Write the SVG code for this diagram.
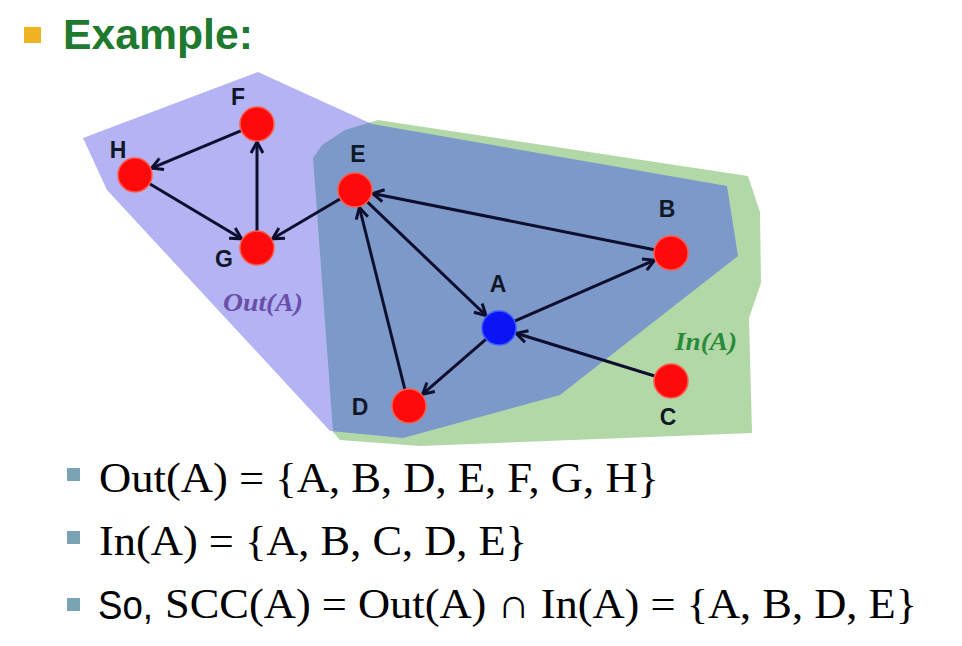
<svg xmlns="http://www.w3.org/2000/svg" width="962" height="646" viewBox="0 0 962 646">
<style>
.node{stroke-width:1.5}
.red{fill:#ff0a0a;stroke:#ff5a4a}
.blue{fill:#0a14f5;stroke:#3a5aff}
.lbl{font-family:"Liberation Sans",Arial,sans-serif;font-weight:bold;font-size:23px;fill:#101828;text-anchor:middle}
.edge{stroke:#0e0e2e;stroke-width:3;fill:none;marker-end:url(#ah)}
.body{font-family:"Liberation Serif","Times New Roman",serif;font-size:42px;fill:#000}
.bul{fill:#7aa3b4}
</style>
<defs>
<marker id="ah" markerWidth="18" markerHeight="18" refX="13" refY="8" orient="auto" markerUnits="userSpaceOnUse">
<path d="M2,2 L13,8 L2,14" fill="none" stroke="#0e0e2e" stroke-width="3" stroke-linejoin="miter"/>
</marker>
<clipPath id="gclip">
<polygon points="313,158 322,145 345,130 378,120 748,176 760,212 761,283 749,318 752,433 420,446 340,440 333,432"/>
</clipPath>
</defs>
<rect width="962" height="646" fill="#ffffff"/>

<!-- title -->
<rect x="24" y="27" width="17" height="16" fill="#efb322"/>
<text x="63" y="49" font-family="'Liberation Sans',Arial,sans-serif" font-weight="bold" font-size="43" fill="#1e7a2e" textLength="190" lengthAdjust="spacingAndGlyphs">Example:</text>

<!-- regions -->
<g id="regions">
<polygon id="out-region" points="83,138 258,72 372,124 727,186 738,256 560,395 403,438 330,431 107,190" fill="#b4b3f4"/>
<polygon id="in-region" points="313,158 322,145 345,130 378,120 748,176 760,212 761,283 749,318 752,433 420,446 340,440 333,432" fill="#b2d8a8"/>
<polygon id="overlap" clip-path="url(#gclip)" points="83,138 258,72 372,124 727,186 738,256 560,395 403,438 330,431 107,190" fill="#7d99ca"/>
<text x="263" y="311" font-family="'Liberation Serif','Times New Roman',serif" font-style="italic" font-weight="bold" font-size="25" fill="#6a4fa8" text-anchor="middle" textLength="80" lengthAdjust="spacingAndGlyphs">Out(A)</text>
<text x="706" y="350" font-family="'Liberation Serif','Times New Roman',serif" font-style="italic" font-weight="bold" font-size="25" fill="#2a8a3a" text-anchor="middle" textLength="62" lengthAdjust="spacingAndGlyphs">In(A)</text>
</g>

<!-- connectors -->
<g id="edges">
<line class="edge" x1="241.3" y1="130.6" x2="151.6" y2="168.1"/>
<line class="edge" x1="149.6" y1="183.7" x2="241.6" y2="238.8"/>
<line class="edge" x1="257" y1="231" x2="257" y2="142"/>
<line class="edge" x1="340.4" y1="198.7" x2="272.5" y2="238.8"/>
<line class="edge" x1="654.3" y1="249.7" x2="372.7" y2="193.5"/>
<line class="edge" x1="367.3" y1="201.8" x2="486" y2="315.5"/>
<line class="edge" x1="514.6" y1="321.2" x2="654.5" y2="260.2"/>
<line class="edge" x1="486.1" y1="339.1" x2="422.6" y2="394.2"/>
<line class="edge" x1="404.9" y1="389.5" x2="359.4" y2="207.5"/>
<line class="edge" x1="654.7" y1="376" x2="516.2" y2="333.3"/>
</g>

<!-- nodes -->
<g id="node-F"><circle class="node red" cx="257" cy="124" r="17"/><text class="lbl" x="238" y="105">F</text></g>
<g id="node-H"><circle class="node red" cx="135" cy="175" r="17"/><text class="lbl" x="118" y="158">H</text></g>
<g id="node-G"><circle class="node red" cx="257" cy="248" r="17"/><text class="lbl" x="224" y="267">G</text></g>
<g id="node-E"><circle class="node red" cx="355" cy="190" r="17"/><text class="lbl" x="358" y="162">E</text></g>
<g id="node-B"><circle class="node red" cx="671" cy="253" r="17"/><text class="lbl" x="667" y="217">B</text></g>
<g id="node-A"><circle class="node blue" cx="499" cy="328" r="17"/><text class="lbl" x="498" y="292">A</text></g>
<g id="node-C"><circle class="node red" cx="671" cy="381" r="17"/><text class="lbl" x="668" y="425">C</text></g>
<g id="node-D"><circle class="node red" cx="409" cy="406" r="17"/><text class="lbl" x="360" y="415">D</text></g>

<!-- bullet text -->
<g id="bullets">
<rect class="bul" x="67" y="468" width="13" height="13"/>
<text class="body" x="99" y="492" textLength="560" lengthAdjust="spacingAndGlyphs">Out(A) = {A, B, D, E, F, G, H}</text>
<rect class="bul" x="67" y="531" width="13" height="13"/>
<text class="body" x="99" y="555" textLength="428" lengthAdjust="spacingAndGlyphs">In(A) = {A, B, C, D, E}</text>
<rect class="bul" x="67" y="598" width="13" height="13"/>
<text x="98" y="619" font-family="'Liberation Sans',Arial,sans-serif" font-size="40" fill="#000" textLength="55" lengthAdjust="spacingAndGlyphs">So,</text>
<text class="body" x="165" y="618" textLength="752" lengthAdjust="spacingAndGlyphs">SCC(A) = Out(A) ∩ In(A) = {A, B, D, E}</text>
</g>
</svg>
